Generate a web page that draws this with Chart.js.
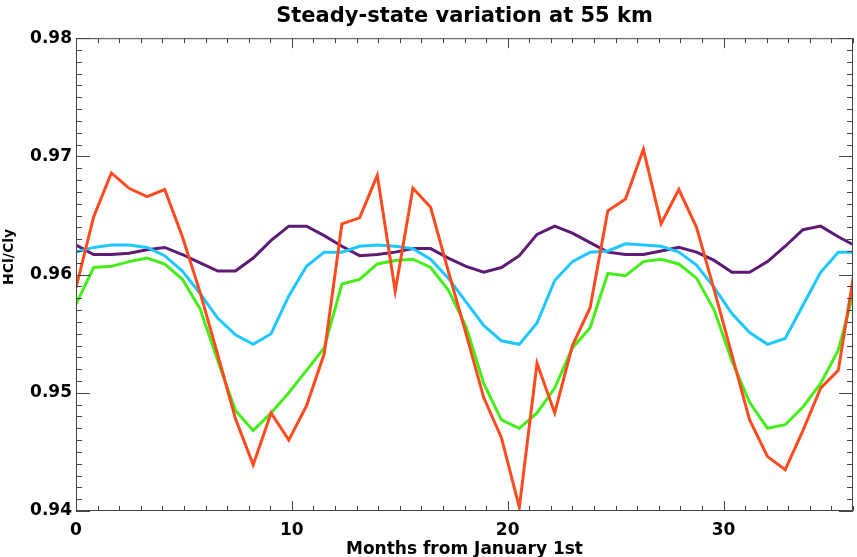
<!DOCTYPE html>
<html>
<head>
<meta charset="utf-8">
<title>Steady-state variation at 55 km</title>
<script src="https://cdn.jsdelivr.net/npm/chart.js@4.4.1/dist/chart.umd.min.js"></script>
<style>
  html, body { margin: 0; padding: 0; background: #fff; }
  #wrap { width: 857px; height: 557px; }
</style>
</head>
<body>
<div id="wrap"><canvas id="hclChart" width="857" height="557"></canvas></div>
<script>
// months since 1 January (25-day model step)
var months = [0, 0.82, 1.64, 2.46, 3.29, 4.11, 4.93, 5.75, 6.57, 7.39, 8.21, 9.04, 9.86,
  10.68, 11.50, 12.32, 13.14, 13.96, 14.79, 15.61, 16.43, 17.25, 18.07, 18.89, 19.71,
  20.54, 21.36, 22.18, 23.00, 23.82, 24.64, 25.46, 26.29, 27.11, 27.93, 28.75, 29.57,
  30.39, 31.21, 32.04, 32.86, 33.68, 34.50, 35.32, 36.14];

// HCl/Cly ratio for each run
var redRun = [0.9589, 0.9649, 0.9686, 0.9673, 0.9666, 0.9672, 0.9632, 0.9585, 0.9532,
  0.9478, 0.9439, 0.9483, 0.9460, 0.9489, 0.9533, 0.9643, 0.9648, 0.9684, 0.9586,
  0.9673, 0.9657, 0.9603, 0.9550, 0.9496, 0.9462, 0.9403, 0.9525, 0.9483, 0.9540,
  0.9572, 0.9654, 0.9664, 0.9706, 0.9643, 0.9672, 0.9640, 0.9587, 0.9532, 0.9477,
  0.9446, 0.9435, 0.9468, 0.9504, 0.9519, 0.9612];
var greenRun = [0.9575, 0.9606, 0.9607, 0.9611, 0.9614, 0.9609, 0.9596, 0.9571, 0.9527,
  0.9485, 0.9468, 0.9483, 0.9500, 0.9519, 0.9538, 0.9592, 0.9596, 0.9609, 0.9612,
  0.9613, 0.9606, 0.9587, 0.9556, 0.9508, 0.9477, 0.9470, 0.9483, 0.9504, 0.9538,
  0.9555, 0.9601, 0.9599, 0.9611, 0.9613, 0.9609, 0.9597, 0.9570, 0.9527, 0.9492,
  0.9470, 0.9473, 0.9488, 0.9508, 0.9536, 0.9593];
var cyanRun = [0.9619, 0.9623, 0.9625, 0.9625, 0.9623, 0.9616, 0.9603, 0.9584, 0.9563,
  0.9549, 0.9541, 0.9550, 0.9582, 0.9607, 0.9619, 0.9619, 0.9624, 0.9625, 0.9624,
  0.9622, 0.9613, 0.9597, 0.9577, 0.9557, 0.9544, 0.9541, 0.9559, 0.9595, 0.9611,
  0.9619, 0.9620, 0.9626, 0.9625, 0.9624, 0.9619, 0.9608, 0.9589, 0.9567, 0.9551,
  0.9541, 0.9546, 0.9574, 0.9602, 0.9619, 0.9619];
var purpleRun = [0.9625, 0.9617, 0.9617, 0.9618, 0.9621, 0.9623, 0.9617, 0.9610, 0.9603,
  0.9603, 0.9614, 0.9629, 0.9641, 0.9641, 0.9633, 0.9624, 0.9616, 0.9617, 0.9619,
  0.9622, 0.9622, 0.9614, 0.9607, 0.9602, 0.9606, 0.9616, 0.9634, 0.9641, 0.9635,
  0.9627, 0.9619, 0.9617, 0.9617, 0.9620, 0.9623, 0.9619, 0.9612, 0.9602, 0.9602,
  0.9611, 0.9624, 0.9638, 0.9641, 0.9632, 0.9624];

var xTicks = [0, 10, 20, 30];
var yTicks = [0.94, 0.95, 0.96, 0.97, 0.98];
var yTitle = 'HCl/Cly';

function pairs(vals) {
  return vals.map(function (v, i) { return { x: months[i], y: v }; });
}

function line(vals, colour) {
  return {
    data: pairs(vals),
    borderColor: colour,
    borderWidth: 3,
    pointRadius: 0,
    tension: 0,
    fill: false
  };
}

var boldFont = 'DejaVu Sans';

// box frame with inward major/minor ticks on all four sides, plus the y title
var frameTicks = {
  id: 'frameTicks',
  afterDatasetsDraw: function (chart) {
    var c = chart.ctx, a = chart.chartArea;
    var xs = chart.scales.x, ys = chart.scales.y;
    c.save();
    c.strokeStyle = '#444';
    c.lineWidth = 1;
    c.beginPath();
    c.rect(a.left + 0.5, a.top + 0.5, a.right - a.left - 1, a.bottom - a.top - 1);
    for (var m = 0; m <= 36; m++) {
      var px = Math.round(xs.getPixelForValue(m)) + 0.5;
      var len = (m % 10 === 0) ? 10 : 5;
      c.moveTo(px, a.bottom); c.lineTo(px, a.bottom - len);
      c.moveTo(px, a.top); c.lineTo(px, a.top + len);
    }
    for (var k = 0; k <= 40; k++) {
      var py = Math.round(ys.getPixelForValue(0.94 + k * 0.001)) + 0.5;
      var l2 = (k % 10 === 0) ? 14 : 6;
      c.moveTo(a.left, py); c.lineTo(a.left + l2, py);
      c.moveTo(a.right, py); c.lineTo(a.right - l2, py);
    }
    c.stroke();

    // y axis title sits a little above the middle of the axis
    c.translate(9, ys.getPixelForValue(0.9615));
    c.rotate(-Math.PI / 2);
    c.fillStyle = '#000';
    c.font = 'bold 14px "' + boldFont + '"';
    c.textAlign = 'center';
    c.textBaseline = 'middle';
    c.fillText(yTitle, 0, 0);
    c.restore();
  }
};

new Chart(document.getElementById('hclChart').getContext('2d'), {
  type: 'line',
  data: {
    datasets: [
      line(redRun, '#ff4b1f'),
      line(greenRun, '#45ee18'),
      line(cyanRun, '#1dc7ff'),
      line(purpleRun, '#5e1b74')
    ]
  },
  options: {
    responsive: false,
    animation: false,
    devicePixelRatio: 1,
    layout: { padding: { left: 0, right: 4, top: 0, bottom: 0 } },
    plugins: {
      legend: { display: false },
      tooltip: { enabled: false },
      title: {
        display: true,
        fullSize: false,
        text: 'Steady-state variation at 55 km',
        color: '#000',
        font: { family: boldFont, size: 21, weight: 'bold' },
        padding: { top: 4, bottom: 9 }
      }
    },
    scales: {
      x: {
        type: 'linear',
        min: 0,
        max: 36,
        afterFit: function (s) { s.height = 46; },
        afterBuildTicks: function (s) { s.ticks = xTicks.map(function (v) { return { value: v }; }); },
        grid: { display: false, drawTicks: false },
        border: { display: false },
        ticks: {
          color: '#000',
          padding: 9,
          maxRotation: 0,
          font: { family: boldFont, size: 17, weight: 'bold' }
        },
        title: {
          display: true,
          text: 'Months from January 1st',
          color: '#000',
          padding: { top: 0, bottom: -3 },
          font: { family: boldFont, size: 17, weight: 'bold' }
        }
      },
      y: {
        min: 0.94,
        max: 0.98,
        afterFit: function (s) { s.width = 76; },
        afterBuildTicks: function (s) { s.ticks = yTicks.map(function (v) { return { value: v }; }); },
        grid: { display: false, drawTicks: false },
        border: { display: false },
        ticks: {
          color: '#000',
          padding: 4,
          font: { family: boldFont, size: 17, weight: 'bold' },
          callback: function (v) { return v.toFixed(2); }
        },
        title: { display: false }
      }
    }
  },
  plugins: [frameTicks]
});
</script>
</body>
</html>
